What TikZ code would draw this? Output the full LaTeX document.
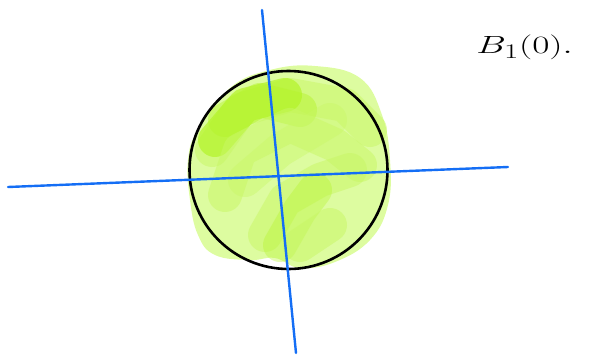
\documentclass[tikz,border=0pt]{standalone}
\usetikzlibrary{calc}
\definecolor{lightgreen}{RGB}{221,252,160}
\definecolor{midgreen}{RGB}{200,247,100}
\definecolor{darkgreen}{RGB}{180,244,40}
\definecolor{axisblue}{RGB}{20,110,245}
\tikzset{
  scribble/.style={line width=34pt, line cap=round, line join=round, opacity=0.5},
  axisline/.style={axisblue, line width=2.4pt, line cap=round},
  ballcircle/.style={draw=black, line width=2.6pt},
}
\begin{document}
\begin{tikzpicture}[x=1pt,y=-1pt]
\useasboundingbox (0,0) rectangle (595,356);
% green fill blob
\fill[lightgreen] plot[smooth cycle, tension=0.7] coordinates {
 (198,130) (230,88) (270,70) (315,66) (360,78) (382,115) (390,160)
 (388,205) (370,240) (335,262) (300,268) (275,258) (250,260) (215,255) (198,235)
 (190,200) (188,160)};
% scribbles
\draw[scribble, midgreen] (212,150) -- (240,110) -- (290,95) -- (345,105) -- (370,130);
\draw[scribble, darkgreen, opacity=0.7] (215,140) -- (245,105) -- (285,95);
\draw[scribble, darkgreen, opacity=0.45] (225,120) -- (260,100) -- (300,110);
\draw[scribble, midgreen] (225,195) -- (240,150) -- (290,125) -- (335,145) -- (360,165);
\draw[scribble, midgreen] (265,235) -- (285,200) -- (320,180) -- (350,170);
\draw[scribble, midgreen, opacity=0.4] (245,180) -- (280,150) -- (330,120);
\draw[scribble, darkgreen, opacity=0.35] (280,245) -- (300,210) -- (315,190);
\draw[scribble, midgreen] (300,245) -- (330,225);
% circle
\node[ballcircle, circle, minimum size=198pt, inner sep=0pt] (ball) at (288.5,170) {};
% axes
\coordinate (xl) at (8,187);
\coordinate (xr) at (508,167);
\coordinate (yt) at (262,10);
\coordinate (yb) at (296,353);
\draw[axisline] (xl) -- (xr);
\draw[axisline] (yt) -- (yb);
% label
\node[anchor=west, inner sep=0pt, font=\fontsize{30}{34}\selectfont, xscale=1.5] (lbl) at (476,47) {$B_1(0).$};
\end{tikzpicture}
\end{document}
